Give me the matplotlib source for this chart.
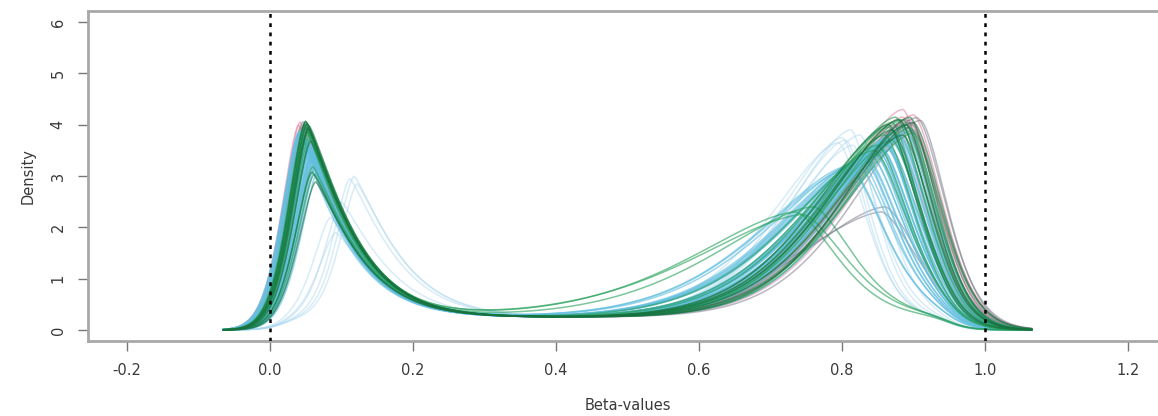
"""Density curves of beta-values per sample, with 0 and 1 marked."""
import numpy as np
import matplotlib
matplotlib.use('Agg')
import matplotlib.pyplot as plt

#  Data: one entry per sample curve
CURVE_GROUP = (['pink'] * 8 + ['grey'] * 8 + ['light'] * 6 + ['sky'] * 40
               + ['green'] * 15 + ['dark'] * 7)
LOW_PEAK = [0.040, 0.042, 0.045, 0.043, 0.048, 0.046, 0.050, 0.044,
            0.048, 0.050, 0.052, 0.046, 0.055, 0.050, 0.053, 0.049,
            0.118, 0.112, 0.122, 0.092, 0.085, 0.100,
            0.040, 0.042, 0.045, 0.047, 0.050, 0.043, 0.048, 0.052, 0.054, 0.046,
            0.041, 0.049, 0.055, 0.044, 0.051, 0.057, 0.039, 0.060, 0.047, 0.053,
            0.045, 0.058, 0.050, 0.043, 0.048,
            0.060, 0.062, 0.058, 0.065, 0.056, 0.063, 0.059, 0.061, 0.066, 0.057,
            0.064, 0.055, 0.062, 0.060, 0.068,
            0.050, 0.052, 0.048, 0.055, 0.050, 0.058, 0.053, 0.060, 0.062, 0.051,
            0.054, 0.049, 0.056, 0.052, 0.050,
            0.052, 0.059, 0.055, 0.057, 0.050, 0.064, 0.053]
LOW_HEIGHT = [4.05, 4.10, 3.95, 4.00, 3.90, 4.05, 3.85, 3.98,
              4.05, 4.00, 3.95, 4.10, 3.90, 4.00, 3.95, 4.02,
              3.00, 2.95, 2.85, 1.90, 2.20, 2.50,
              3.90, 3.85, 3.80, 3.75, 3.70, 3.95, 3.85, 3.60, 3.50, 3.90,
              3.92, 3.78, 3.45, 3.88, 3.65, 3.40, 3.82, 3.30, 3.86, 3.58,
              3.74, 3.35, 3.80, 3.90, 3.70,
              3.55, 3.45, 3.65, 3.30, 3.70, 3.40, 3.60, 3.50, 3.25, 3.68,
              3.35, 3.75, 3.48, 3.52, 3.15,
              4.10, 4.05, 4.00, 3.95, 4.08, 3.80, 3.90, 3.20, 3.05, 4.00,
              3.95, 4.05, 3.85, 3.90, 3.95,
              4.05, 3.10, 4.00, 3.70, 4.10, 2.90, 3.95]
HIGH_PEAK = [0.895, 0.885, 0.890, 0.900, 0.895, 0.875, 0.885, 0.900,
             0.905, 0.910, 0.895, 0.885, 0.900, 0.860, 0.855, 0.890,
             0.812, 0.800, 0.815, 0.825, 0.795, 0.805,
             0.870, 0.860, 0.880, 0.850, 0.865, 0.875, 0.840, 0.855, 0.885, 0.830,
             0.870, 0.890, 0.845, 0.860, 0.875, 0.865, 0.880, 0.855, 0.835, 0.870,
             0.895, 0.850, 0.810, 0.825, 0.880,
             0.840, 0.860, 0.820, 0.870, 0.850, 0.830, 0.880, 0.855, 0.865, 0.835,
             0.845, 0.875, 0.810, 0.860, 0.850,
             0.875, 0.885, 0.870, 0.890, 0.865, 0.880, 0.895, 0.900, 0.870, 0.850,
             0.860, 0.845, 0.735, 0.745, 0.760,
             0.880, 0.890, 0.870, 0.900, 0.865, 0.885, 0.895]
HIGH_HEIGHT = [4.10, 4.30, 4.05, 4.20, 3.95, 4.00, 4.15, 4.00,
               4.15, 4.10, 4.05, 4.00, 3.90, 2.40, 2.30, 4.10,
               3.90, 3.75, 3.60, 3.80, 3.65, 3.70,
               3.80, 3.70, 3.90, 3.60, 3.50, 3.85, 3.40, 3.55, 3.95, 3.30,
               3.75, 3.85, 3.45, 3.65, 3.70, 3.60, 3.80, 3.50, 3.35, 3.65,
               3.90, 3.40, 3.20, 3.30, 3.75,
               3.40, 3.60, 3.25, 3.70, 3.50, 3.35, 3.80, 3.55, 3.60, 3.30,
               3.45, 3.75, 3.15, 3.65, 3.50,
               4.15, 4.10, 4.05, 4.00, 3.95, 4.10, 3.95, 3.85, 3.70, 3.60,
               3.80, 3.50, 2.30, 2.25, 2.40,
               4.10, 4.00, 3.90, 4.05, 4.00, 3.80, 4.15]
HIGH_SPREAD = [0.15, 0.14, 0.15, 0.15, 0.16, 0.15, 0.15, 0.14,
               0.15, 0.14, 0.15, 0.16, 0.15, 0.17, 0.18, 0.15,
               0.13, 0.13, 0.14, 0.14, 0.14, 0.13,
               0.15, 0.15, 0.15, 0.16, 0.16, 0.15, 0.17, 0.16, 0.15, 0.17,
               0.15, 0.15, 0.16, 0.15, 0.16, 0.16, 0.15, 0.16, 0.17, 0.16,
               0.14, 0.16, 0.18, 0.17, 0.15,
               0.17, 0.16, 0.18, 0.15, 0.16, 0.17, 0.15, 0.16, 0.16, 0.17,
               0.17, 0.15, 0.18, 0.16, 0.16,
               0.15, 0.15, 0.14, 0.15, 0.16, 0.15, 0.14, 0.15, 0.15, 0.16,
               0.15, 0.17, 0.21, 0.22, 0.20,
               0.15, 0.14, 0.15, 0.15, 0.15, 0.15, 0.14]
TROUGH = 0.25

GROUP_COLORS = {
    'pink': '#E58AA6',
    'grey': '#7E7E8E',
    'light': '#A9D6EE',
    'sky': '#63BFDF',
    'green': '#25A05A',
    'dark': '#17703E',
}
GROUP_ALPHA = {'pink': 0.6, 'grey': 0.55, 'light': 0.45, 'sky': 0.65,
               'green': 0.6, 'dark': 0.6}
DRAW_ORDER = ['pink', 'grey', 'light', 'sky', 'green', 'dark']

X_TICKS = [-0.2, 0.0, 0.2, 0.4, 0.6, 0.8, 1.0, 1.2]
Y_TICKS = [0, 1, 2, 3, 4, 5, 6]


#  Smooth bimodal density shape built from the read-off peak values
def curve(x, lp, lh, hp, hh, hs):
    plateau = TROUGH / ((1 + np.exp(-(x - 0.02) / 0.015)) * (1 + np.exp((x - 0.95) / 0.015)))
    d = x - lp
    low = np.where(d < 0, np.exp(-(np.abs(d) / 0.035) ** 1.6),
                   np.exp(-(np.abs(d) / 0.074) ** 1.2))
    d = x - hp
    high = np.where(d < 0, np.exp(-(np.abs(d) / hs) ** 1.6),
                    np.exp(-(np.abs(d) / (0.4 * hs)) ** 1.6))
    return plateau + (lh - TROUGH) * low + (hh - TROUGH) * high


fig = plt.figure(figsize=(11.58, 4.16), dpi=100)
# the plot box runs past the right edge of the picture, as in the reference
ax = fig.add_axes([88 / 1158, 75 / 416, 1079 / 1158, 330 / 416])

xs = np.linspace(-0.065, 1.065, 800)
for grp in DRAW_ORDER:
    for i, g in enumerate(CURVE_GROUP):
        if g != grp:
            continue
        ys = curve(xs, LOW_PEAK[i], LOW_HEIGHT[i], HIGH_PEAK[i],
                   HIGH_HEIGHT[i], HIGH_SPREAD[i])
        ax.plot(xs, ys, color=GROUP_COLORS[g], linewidth=1.1, alpha=GROUP_ALPHA[g])

for v in (0.0, 1.0):
    ax.axvline(v, color='black', linewidth=1.8, linestyle=(0, (1.5, 2.2)), zorder=5)

ax.set_xlim(-0.2545, 1.2545)
ax.set_ylim(-0.214, 6.215)
ax.set_xticks(X_TICKS)
ax.set_xticklabels(['-0.2', '0.0', '0.2', '0.4', '0.6', '0.8', '1.0', '1.2'])
ax.set_yticks(Y_TICKS)
ax.tick_params(axis='both', direction='out', length=7, width=1.0, color='#777777',
               labelsize=10.5, labelcolor='#3a3a3a')
ax.tick_params(axis='x', pad=9)
ax.tick_params(axis='y', pad=9)
for lab in ax.get_yticklabels():
    lab.set_rotation(90)
    lab.set_va('center')

for side in ('left', 'bottom', 'top'):
    ax.spines[side].set_color('#A8A8A8')
    ax.spines[side].set_linewidth(2.0)
ax.spines['right'].set_visible(False)

ax.set_xlabel('Beta-values', fontsize=10.5, color='#3a3a3a', labelpad=14)
ax.set_ylabel('Density', fontsize=10.5, color='#3a3a3a', labelpad=11)

fig.savefig('out.png', dpi=100)
plt.close(fig)
